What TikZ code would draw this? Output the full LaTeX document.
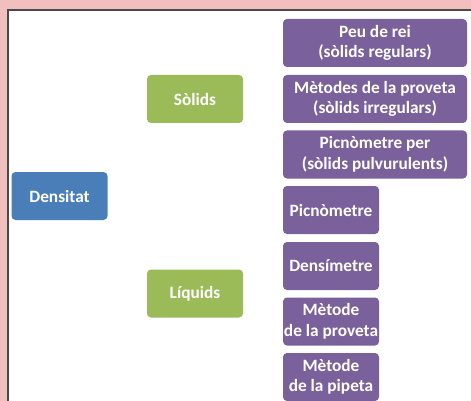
\documentclass[tikz,border=0pt]{standalone}
\usepackage{fontspec}
\setmainfont{Carlito}
\definecolor{bgpink}{HTML}{F2BFBF}
\definecolor{framegray}{HTML}{4A4A4A}
\definecolor{boxpurple}{HTML}{7B619B}
\definecolor{boxgreen}{HTML}{9BBB59}
\definecolor{boxblue}{HTML}{4A7EB8}
\begin{document}
\begin{tikzpicture}[x=1pt,y=-1pt,
  box/.style={rounded corners=4pt, draw=none, text=white, align=center,
    font=\fontsize{17.3}{20.5}\selectfont\bfseries, inner sep=0pt, minimum height=48pt},
  wide/.style={box, fill=boxpurple, minimum width=184pt},
  narrow/.style={box, fill=boxpurple, minimum width=96pt},
  green/.style={box, fill=boxgreen, minimum width=96pt},
  blue/.style={box, fill=boxblue, minimum width=96pt}]
\useasboundingbox (0,0) rectangle (471,401);
\fill[bgpink] (0,0) rectangle (471,401);
\fill[white] (8,10) rectangle (475,405);
\draw[framegray, line width=1.5pt] (8,405) -- (8,10) -- (475,10);
\node[wide] (peu) at (375,43) {Peu de rei\\(sòlids regulars)};
\node[wide] (metodes) at (375,99) {Mètodes de la proveta\\(sòlids irregulars)};
\node[wide] (picper) at (375,154.5) {Picnòmetre per\\(sòlids pulvurulents)};
\node[green] (solids) at (195,99) {Sòlids};
\node[blue] (densitat) at (59.5,196) {Densitat};
\node[narrow] (picn) at (331,210) {Picnòmetre};
\node[narrow] (densim) at (331,266) {Densímetre};
\node[green] (liquids) at (195,293.5) {Líquids};
\node[narrow] (proveta) at (331,321.5) {Mètode\\de la proveta};
\node[narrow] (pipeta) at (331,377) {Mètode\\de la pipeta};
\end{tikzpicture}
\end{document}
